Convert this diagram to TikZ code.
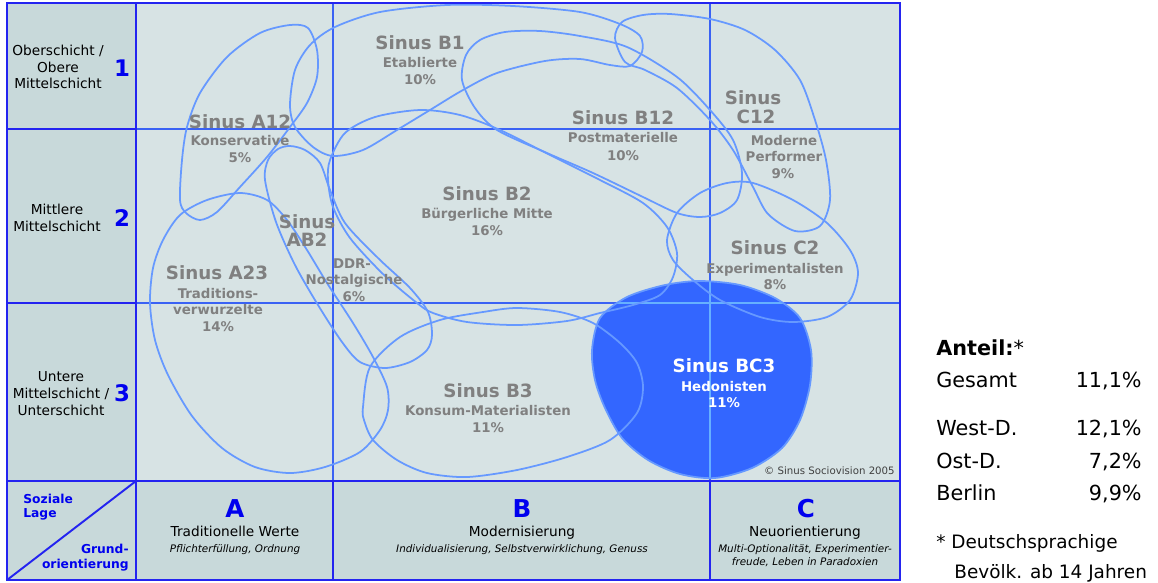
\documentclass[tikz,border=0pt]{standalone}
\usepackage{fontspec}
\setmainfont{DejaVu Sans}
\usepackage{tikz}
\definecolor{Chart}{HTML}{D7E3E4}
\definecolor{Side}{HTML}{C8D9DA}
\definecolor{Frame}{HTML}{2424F0}
\definecolor{Grid}{HTML}{3A62F4}
\definecolor{GridLight}{HTML}{66B0FF}
\definecolor{Outline}{HTML}{6699FF}
\definecolor{Hedo}{HTML}{3366FF}
\definecolor{Label}{HTML}{808080}
\definecolor{Ink}{HTML}{0000EE}
\newcommand{\hedonisten}{plot[smooth cycle] coordinates {(592,350) (600,318) (627,297) (665,285) (700,281) (740,285) (775,298) (800,318) (811,350) (810,385) (800,420) (782,448) (752,468) (715,478) (680,474) (648,460) (622,438) (605,408) (595,380)}}

\begin{document}
\begin{tikzpicture}[x=0.02cm,y=-0.02cm,
  mtitle/.style={anchor=base,inner sep=0pt,text=Label,font=\fontsize{10.4}{12}\selectfont\bfseries},
  msub/.style={anchor=base,inner sep=0pt,text=Label,font=\fontsize{7.6}{9}\selectfont\bfseries},
  layertext/.style={anchor=base,inner sep=0pt,font=\fontsize{7.8}{9}\selectfont},
  digit/.style={anchor=base,inner sep=0pt,text=Ink,font=\fontsize{13}{15}\selectfont\bfseries},
  letter/.style={anchor=base,inner sep=0pt,text=Ink,font=\fontsize{14}{16}\selectfont\bfseries},
  corner/.style={inner sep=0pt,text=Ink,font=\fontsize{7}{8}\selectfont\bfseries},
  hint/.style={anchor=base,inner sep=0pt,font=\fontsize{5.9}{7}\selectfont\itshape},
  share/.style={inner sep=0pt,font=\fontsize{11.8}{14}\selectfont},
  milieu/.style={draw=Outline,line width=1pt}]
\useasboundingbox (0,0) rectangle (1158,582);
\fill[Chart] (136,3) rectangle (900,481);
\fill[Side] (7,3) rectangle (136,481);
\fill[Side] (7,481) rectangle (900,580);
\draw[Grid,line width=0.85pt] (333,3) -- (333,481) (710,3) -- (710,481) (136,129) -- (900,129) (136,303) -- (900,303);
\fill[Hedo] \hedonisten;
\begin{scope}
\clip \hedonisten;
\draw[GridLight,line width=0.85pt] (710,3) -- (710,481) (136,303) -- (900,303);
\end{scope}
\draw[milieu] \hedonisten;
\draw[milieu] plot[smooth cycle] coordinates {(180,200) (182,160) (187,127) (200,93) (227,57) (260,33) (290,25) (308,28) (317,50) (317,77) (307,103) (290,127) (267,157) (240,187) (217,212) (200,220) (186,213)};
\draw[milieu] plot[smooth cycle] coordinates {(290,105) (295,70) (310,45) (335,27) (380,12) (447,5) (513,6) (580,12) (620,24) (640,36) (642,52) (630,66) (610,65) (580,59) (545,61) (497,73) (463,90) (430,110) (397,130) (363,150) (333,156) (313,147) (295,127)};
\draw[milieu] plot[smooth cycle] coordinates {(462,80) (466,55) (480,40) (505,32) (540,31) (580,36) (627,47) (677,77) (710,110) (733,140) (742,173) (737,200) (720,213) (700,217) (677,213) (643,197) (593,173) (547,153) (497,130) (475,108)};
\draw[milieu] plot[smooth cycle] coordinates {(615,38) (622,22) (643,15) (670,14) (710,19) (745,30) (775,50) (800,80) (815,120) (826,160) (830,200) (820,226) (795,231) (768,214) (753,187) (733,150) (710,120) (677,88) (645,70) (625,62)};
\draw[milieu] plot[smooth cycle] coordinates {(330,160) (345,133) (375,117) (420,110) (460,115) (500,130) (550,155) (600,180) (643,203) (667,227) (677,253) (673,277) (660,295) (633,305) (600,313) (567,321) (517,325) (467,322) (433,313) (417,303) (383,274) (350,238) (333,207) (328,180)};
\draw[milieu] plot[smooth cycle] coordinates {(265,180) (268,160) (278,149) (290,146) (305,150) (320,163) (330,190) (345,223) (378,258) (410,288) (428,312) (432,335) (427,350) (410,362) (385,368) (360,362) (342,342) (318,305) (295,265) (276,222)};
\draw[milieu] plot[smooth cycle] coordinates {(150,303) (153,268) (163,240) (180,215) (207,200) (240,193) (267,200) (287,220) (307,250) (327,283) (353,323) (373,357) (387,387) (388,410) (380,430) (360,452) (325,467) (290,473) (255,467) (222,448) (192,416) (168,375) (155,340)};
\draw[milieu] plot[smooth cycle] coordinates {(667,240) (677,213) (700,193) (727,183) (753,183) (793,200) (827,223) (850,250) (858,273) (850,300) (827,317) (793,322) (760,317) (720,300) (693,280) (673,260)};
\draw[milieu] plot[smooth cycle] coordinates {(363,407) (370,367) (400,337) (440,320) (483,312) (517,308) (560,312) (593,323) (620,343) (637,363) (643,387) (637,413) (610,440) (567,457) (517,470) (467,477) (427,473) (397,460) (373,440) (364,420)};
\draw[Frame,line width=1.1pt] (7,3) rectangle (900,580) (136,3) -- (136,580) (7,129) -- (136,129) (7,303) -- (136,303) (7,481) -- (900,481) (333,481) -- (333,580) (710,481) -- (710,580) (7,580) -- (136,481);
\node[layertext] (o1) at (58,55) {Oberschicht /};
\node[layertext] (o2) at (58,72) {Obere};
\node[layertext] (o3) at (58,88) {Mittelschicht};
\node[digit] (n1) at (122,76) {1};
\node[layertext] (m1) at (57,214) {Mittlere};
\node[layertext] (m2) at (57,231) {Mittelschicht};
\node[digit] (n2) at (122,226) {2};
\node[layertext] (u1) at (61,381) {Untere};
\node[layertext] (u2) at (61,398) {Mittelschicht /};
\node[layertext] (u3) at (61,415) {Unterschicht};
\node[digit] (n3) at (122,401) {3};
\node[corner,anchor=base west] (lage1) at (23,503.5) {Soziale};
\node[corner,anchor=base west] (lage2) at (23,517.5) {Lage};
\node[corner,anchor=base east] (grund1) at (129,553.5) {Grund-};
\node[corner,anchor=base east] (grund2) at (129,568.5) {orientierung};
\node[letter] (ka) at (235,517) {A};
\node[layertext] (wa) at (235,536) {Traditionelle Werte};
\node[hint] (ha) at (235,552) {Pflichterfüllung, Ordnung};
\node[letter] (kb) at (522,517) {B};
\node[layertext] (wb) at (522,536) {Modernisierung};
\node[hint] (hb) at (522,552) {Individualisierung, Selbstverwirklichung, Genuss};
\node[letter] (kc) at (806,517) {C};
\node[layertext] (wc) at (805,536) {Neuorientierung};
\node[hint] (hc1) at (805,552) {Multi-Optionalität, Experimentier-};
\node[hint] (hc2) at (805,565) {freude, Leben in Paradoxien};
\node[anchor=base east,inner sep=0pt,text=black!75,font=\fontsize{5.8}{7}\selectfont] (copy) at (895,474.5) {© Sinus Sociovision 2005};
\node[mtitle] (tb1) at (420,49.7) {Sinus B1};
\node[msub] (sb1) at (420,67) {Etablierte};
\node[msub] (pb1) at (420,84) {10\%};
\node[mtitle] (ta12) at (240,128.7) {Sinus A12};
\node[msub] (sa12) at (240,145) {Konservative};
\node[msub] (pa12) at (240,162) {5\%};
\node[mtitle] (tb12) at (623,124.7) {Sinus B12};
\node[msub] (sb12) at (623,142) {Postmaterielle};
\node[msub] (pb12) at (623,160) {10\%};
\node[mtitle] (tc12a) at (753,104.7) {Sinus};
\node[mtitle] (tc12b) at (756,123.7) {C12};
\node[msub] (sc12a) at (784,145) {Moderne};
\node[msub] (sc12b) at (784,161) {Performer};
\node[msub] (pc12) at (783,178) {9\%};
\node[mtitle] (tb2) at (487,200.7) {Sinus B2};
\node[msub] (sb2) at (487,218) {Bürgerliche Mitte};
\node[msub] (pb2) at (487,235) {16\%};
\node[mtitle] (tab2a) at (307,228.7) {Sinus};
\node[mtitle] (tab2b) at (307,246.7) {AB2};
\node[msub] (sab2a) at (352,268) {DDR-};
\node[msub] (sab2b) at (354,284) {Nostalgische};
\node[msub] (pab2) at (354,301) {6\%};
\node[mtitle] (ta23) at (217,279.7) {Sinus A23};
\node[msub] (sa23a) at (218,298) {Traditions-};
\node[msub] (sa23b) at (218,314) {verwurzelte};
\node[msub] (pa23) at (218,331) {14\%};
\node[mtitle] (tc2) at (775,254.7) {Sinus C2};
\node[msub] (sc2) at (775,273) {Experimentalisten};
\node[msub] (pc2) at (775,289) {8\%};
\node[mtitle] (tb3) at (488,397.7) {Sinus B3};
\node[msub] (sb3) at (488,415) {Konsum-Materialisten};
\node[msub] (pb3) at (488,432) {11\%};
\node[mtitle,text=white] (tbc3) at (724,372.7) {Sinus BC3};
\node[msub,text=white] (sbc3) at (724,391) {Hedonisten};
\node[msub,text=white] (pbc3) at (724,407) {11\%};
\node[share,anchor=base west] (anteil) at (936,355.5) {\textbf{Anteil:}*};
\foreach \y/\r/\v [count=\i] in {387.5/Gesamt/{11,1\%},435.5/West-D./{12,1\%},468.5/Ost-D./{7,2\%},500.5/Berlin/{9,9\%}}{
  \node[share,anchor=base west] (reg\i) at (936,\y) {\r};
  \node[share,anchor=base east] (val\i) at (1142,\y) {\v};
}
\node[inner sep=0pt,anchor=base west,font=\fontsize{10.5}{12}\selectfont] (foot1) at (936,548.5) {* Deutschsprachige};
\node[inner sep=0pt,anchor=base west,font=\fontsize{10.5}{12}\selectfont] (foot2) at (954,578) {Bevölk. ab 14 Jahren};
\end{tikzpicture}
\end{document}
